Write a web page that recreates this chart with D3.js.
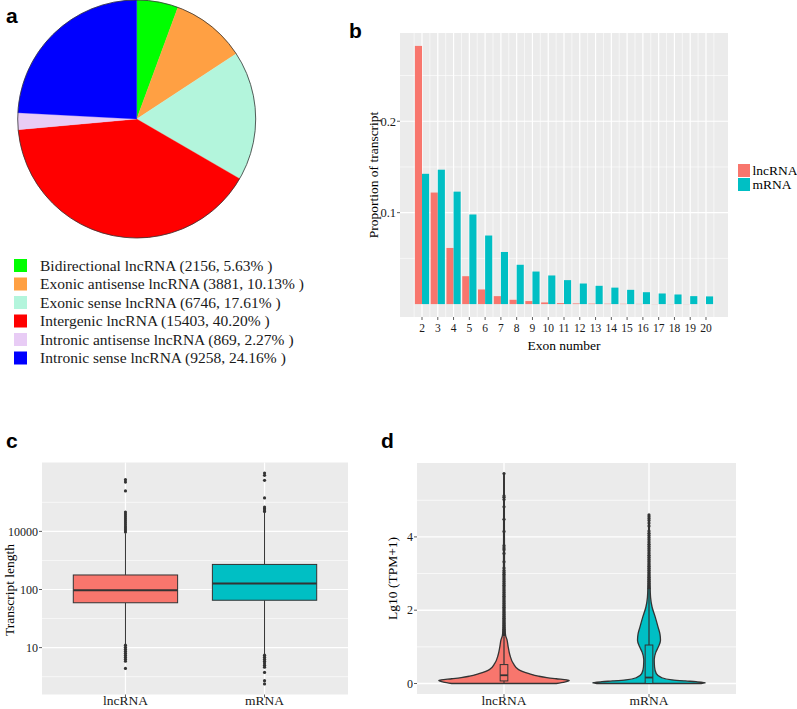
<!DOCTYPE html>
<html><head><meta charset="utf-8">
<script src="https://cdn.jsdelivr.net/npm/d3@7"></script>
<style>
body{margin:0;background:#fff}
svg{display:block}
text{font-family:"Liberation Serif","Times New Roman",serif}
</style>
</head><body>
<svg id="fig" width="797" height="709"></svg>
<script>
// ---------- Panel a data ----------
const pieLabels = ["Bidirectional lncRNA","Exonic antisense lncRNA","Exonic sense lncRNA","Intergenic lncRNA","Intronic antisense lncRNA","Intronic sense lncRNA"];
const pieCounts = [2156, 3881, 6746, 15403, 869, 9258];
const piePercents = ["5.63","10.13","17.61","40.20","2.27","24.16"];
const pieColors = ["#00FF00","#FFA043","#B3F5DC","#FF0000","#E8CCF5","#0000FF"];

// ---------- Panel b data ----------
const exonNumbers = [2,3,4,5,6,7,8,9,10,11,12,13,14,15,16,17,18,19,20];
const lncProportion = [0.2824,0.122,0.0614,0.0305,0.016,0.0087,0.0047,0.0033,0.0018,0.0011,0.0007,0.0005,0.0004,0.0003,0.0002,0.0001,0.0001,0.0001,0.0];
const mrnaProportion = [0.1425,0.147,0.123,0.098,0.075,0.057,0.043,0.0356,0.0313,0.0262,0.0225,0.020,0.018,0.0156,0.013,0.0116,0.0105,0.0087,0.0084];
const seriesNames = ["lncRNA","mRNA"];
const seriesColors = ["#F8766D","#00BFC4"];
const bYTicks = [0.1, 0.2];
const bYMinor = [0.05, 0.15, 0.25];

// ---------- Panel c data (transcript length) ----------
const cGroups = ["lncRNA","mRNA"];
const cWhiskerLow = [11, 8.4];
const cQ1 = [51, 57.5];
const cMedian = [96, 140];
const cQ3 = [239, 498];
const cWhiskerHigh = [8200, 104000];
const cOutliersLnc = [9400,11700,14700,18400,23300,29600,37900,48900,63200,82600,108000,3.0e6,1.6e7,2.6e7,10.7,10.1,9.58,9.08,8.62,8.2,7.8,7.44,7.1,6.03];
const cOutliersMrna = [116000,143000,177000,220000,920000,2.27e7,6.4e7,1.05e8,8.2,7.8,7.44,7.1,6.78,6.48,6.2,5.55,4.72,4.45];
const cYTicks = [10, 100, 10000];
const cYTickLabels = ["10","100","10000"];

// ---------- Panel d data (Lg10 TPM+1) ----------
const dGroups = ["lncRNA","mRNA"];
const lncViolinLevels = [0,0.04,0.08,0.1,0.13,0.16,0.2,0.27,0.38,0.54,0.77,1.0,1.2,1.3,1.5,2,3,4,5.73];
const lncViolinDensity = [50,58,62.5,60,50,41,33,24,14,9,5.7,4,2.8,1.6,1.0,0.7,0.5,0.4,0.3];
const mrnaViolinLevels = [0,0.02,0.05,0.07,0.1,0.16,0.27,0.45,0.65,0.85,1.0,1.18,1.35,1.54,1.81,2.08,2.35,2.7,3.5,4.6];
const mrnaViolinDensity = [50,54,45,35,22,12,7,5.3,5,6.5,9,11,10.5,8.7,6,3,1.5,1.0,0.6,0.3];
const dWhiskerLow = [0, 0];
const dQ1 = [0.07, 0.0];
const dMedian = [0.225, 0.163];
const dQ3 = [0.516, 1.05];
const dWhiskerHigh = [1.29, 2.55];
const dOutliersLnc = [1.33,1.38,1.43,1.48,1.53,1.58,1.63,1.68,1.73,1.78,1.83,1.88,1.93,1.98,2.03,2.08,2.13,2.18,2.23,2.28,2.33,2.38,2.43,2.48,2.53,2.58,2.63,2.68,2.73,2.78,2.83,2.88,2.93,2.98,3.03,3.08,3.15,3.32,3.55,3.65,3.7,3.76,4.15,4.48,4.82,5.02,5.08,5.12,5.73];
const dOutliersMrna = [2.6,2.66,2.72,2.78,2.84,2.9,2.96,3.02,3.08,3.14,3.2,3.26,3.32,3.38,3.44,3.5,3.56,3.62,3.68,3.74,3.8,3.86,3.92,3.98,4.04,4.1,4.16,4.3,4.38,4.45,4.5,4.55,4.6];
const dYTicks = [0, 2, 4];
const dYMinor = [1, 3, 5];

// ---------- drawing ----------
const svg = d3.select("#fig");
const BG = "#EBEBEB", GRID = "#FFFFFF", TXT = "#1a1a1a", TICK = "#333333", LINE = "#333333";

function panelLetter(t, x, y){
  svg.append("text").attr("x",x).attr("y",y).text(t)
    .style("font-family","'Liberation Sans',Arial,sans-serif").style("font-weight","bold")
    .style("font-size","21px").attr("fill","#000");
}
function expand(lo, hi, f){ const r = hi - lo; return [lo - r*f, hi + r*f]; }
function hGrid(g, x0, x1, ys, w){ ys.forEach(y => g.append("line").attr("x1",x0).attr("x2",x1).attr("y1",y).attr("y2",y).attr("stroke",GRID).attr("stroke-width",w)); }
function vGrid(g, y0, y1, xs, w){ xs.forEach(x => g.append("line").attr("x1",x).attr("x2",x).attr("y1",y0).attr("y2",y1).attr("stroke",GRID).attr("stroke-width",w)); }
function yTicks(g, x, ys, labels, fs){
  ys.forEach((y,i) => {
    g.append("line").attr("x1",x-3).attr("x2",x).attr("y1",y).attr("y2",y).attr("stroke",TICK).attr("stroke-width",0.8);
    g.append("text").attr("x",x-4).attr("y",y).attr("dy","0.35em").attr("text-anchor","end")
      .style("font-size",fs+"px").attr("fill",TXT).text(labels[i]);
  });
}
function xTicks(g, y, xs, labels, fs, ly){
  xs.forEach((x,i) => {
    g.append("line").attr("x1",x).attr("x2",x).attr("y1",y).attr("y2",y+3).attr("stroke",TICK).attr("stroke-width",0.8);
    g.append("text").attr("x",x).attr("y",ly).attr("text-anchor","middle")
      .style("font-size",fs+"px").attr("fill",TXT).text(labels[i]);
  });
}

// ===== Panel a: pie =====
panelLetter("a", 6, 23);
const pieG = svg.append("g").attr("transform","translate(136.7,119)");
const pieR = 119;
const arcs = d3.pie().sort(null).value(d => d)(pieCounts);
const arcGen = d3.arc().innerRadius(0).outerRadius(pieR);
pieG.selectAll("path.slice").data(arcs).join("path").attr("class","slice")
  .attr("d", arcGen).attr("fill", (d,i) => pieColors[i]).attr("stroke", (d,i)=>pieColors[i]).attr("stroke-width",0.3);
pieG.append("circle").attr("r",pieR).attr("fill","none").attr("stroke","#333").attr("stroke-width",0.8);

const legA = svg.append("g");
const legRow = d3.scaleLinear().domain([0,1]).range([265.5, 284]);
pieLabels.forEach((lab,i) => {
  const cy = legRow(i);
  legA.append("rect").attr("x",14).attr("y",cy-6.5).attr("width",13).attr("height",13).attr("fill",pieColors[i]);
  legA.append("text").attr("x",40).attr("y",cy).attr("dy","0.35em").style("font-size","15.5px").attr("fill",TXT)
    .text(`${lab} (${pieCounts[i]}, ${piePercents[i]}% )`);
});

// ===== Panel b: grouped bars =====
panelLetter("b", 349, 38);
const bL = 400, bR = 728, bT = 33, bB = 317;
const gB = svg.append("g");
const half = 0.45;
const bx = d3.scaleLinear().domain(expand(d3.min(exonNumbers)-half, d3.max(exonNumbers)+half, 0.05)).range([bL, bR]);
const allProp = lncProportion.concat(mrnaProportion);
const by = d3.scaleLinear().domain(expand(0, d3.max(allProp), 0.05)).range([bB, bT]);
gB.append("rect").attr("x",bL).attr("y",bT).attr("width",bR-bL).attr("height",bB-bT).attr("fill",BG);
hGrid(gB, bL, bR, bYMinor.map(by), 0.6);
hGrid(gB, bL, bR, bYTicks.map(by), 1.2);
const bMinorX = exonNumbers.map(n => n - 0.5).concat([d3.max(exonNumbers)+0.5]);
vGrid(gB, bT, bB, bMinorX.map(bx), 0.6);
vGrid(gB, bT, bB, exonNumbers.map(bx), 1.2);
const bSeries = [lncProportion, mrnaProportion];
bSeries.forEach((vals, s) => {
  gB.selectAll(null).data(vals).join("rect")
    .attr("x", (d,i) => s === 0 ? bx(exonNumbers[i]-half) : bx(exonNumbers[i]))
    .attr("width", bx(half) - bx(0))
    .attr("y", d => by(d)).attr("height", d => by(0) - by(d))
    .attr("fill", seriesColors[s]);
});
yTicks(gB, bL, bYTicks.map(by), bYTicks.map(d3.format(".1f")), 12.5);
xTicks(gB, bB, exonNumbers.map(bx), exonNumbers.map(String), 11.5, 332);
gB.append("text").attr("x",(bL+bR)/2).attr("y",350).attr("text-anchor","middle").style("font-size","13.5px").attr("fill","#000").text("Exon number");
gB.append("text").attr("transform",`translate(373,${(bT+bB)/2}) rotate(-90)`).attr("dy","0.35em").attr("text-anchor","middle")
  .style("font-size","13.5px").attr("fill","#000").text("Proportion of transcript");
// legend
seriesNames.forEach((nm,i) => {
  const cy = 170.5 + i*14;
  gB.append("rect").attr("x",738).attr("y",cy-6.5).attr("width",12).attr("height",13).attr("fill",seriesColors[i]);
  gB.append("text").attr("x",752.5).attr("y",cy).attr("dy","0.35em").style("font-size","13.5px").attr("fill","#000").text(nm);
});

// ===== Panel c: boxplot (double log scale) =====
panelLetter("c", 6, 448);
const cL = 42, cR = 348, cT = 462.5, cB = 694.5;
const gC = svg.append("g");
const uT = v => Math.log10(Math.log10(v));
const cAll = cWhiskerLow.concat(cWhiskerHigh, cOutliersLnc, cOutliersMrna).map(uT);
const cyLin = d3.scaleLinear().domain(expand(d3.min(cAll), d3.max(cAll), 0.05)).range([cB, cT]);
const cy = v => cyLin(uT(v));
const cx = d3.scalePoint().domain(cGroups).range([cL, cR]).padding(0.6);
const cUnit = cx.step();
gC.append("rect").attr("x",cL).attr("y",cT).attr("width",cR-cL).attr("height",cB-cT).attr("fill",BG);
const cMajU = cYTicks.map(uT);
const cMinU = [cMajU[0]-(cMajU[1]-cMajU[0])/2].concat(cMajU.map((u,i)=> i<cMajU.length-1 ? (u+cMajU[i+1])/2 : u+(u-cMajU[i-1])/2));
hGrid(gC, cL, cR, cMinU.map(cyLin), 0.6);
hGrid(gC, cL, cR, cYTicks.map(cy), 1.2);
vGrid(gC, cT, cB, cGroups.map(cx), 1.2);
const cOut = [cOutliersLnc, cOutliersMrna];
cGroups.forEach((g,i) => {
  const x = cx(g), hw = 0.375*cUnit;
  gC.append("line").attr("x1",x).attr("x2",x).attr("y1",cy(cWhiskerLow[i])).attr("y2",cy(cQ1[i])).attr("stroke",LINE).attr("stroke-width",1);
  gC.append("line").attr("x1",x).attr("x2",x).attr("y1",cy(cQ3[i])).attr("y2",cy(cWhiskerHigh[i])).attr("stroke",LINE).attr("stroke-width",1);
  gC.append("rect").attr("x",x-hw).attr("width",2*hw).attr("y",cy(cQ3[i])).attr("height",cy(cQ1[i])-cy(cQ3[i]))
    .attr("fill",seriesColors[i]).attr("stroke",LINE).attr("stroke-width",1);
  gC.append("line").attr("x1",x-hw).attr("x2",x+hw).attr("y1",cy(cMedian[i])).attr("y2",cy(cMedian[i])).attr("stroke",LINE).attr("stroke-width",2);
  gC.selectAll(null).data(cOut[i]).join("circle").attr("cx",x).attr("cy",d=>cy(d)).attr("r",1.6).attr("fill",LINE);
});
yTicks(gC, cL, cYTicks.map(cy), cYTickLabels, 12);
xTicks(gC, cB, cGroups.map(cx), cGroups, 13.5, 705);
gC.append("text").attr("transform",`translate(9,590) rotate(-90)`).attr("dy","0.35em").attr("text-anchor","middle")
  .style("font-size","13.5px").attr("fill","#000").text("Transcript length");

// ===== Panel d: violin + boxplot =====
panelLetter("d", 381, 448);
const dL = 417, dR = 736, dT = 463, dB = 694;
const gD = svg.append("g");
const dAll = [0].concat(dOutliersLnc, dOutliersMrna, lncViolinLevels, mrnaViolinLevels);
const dy = d3.scaleLinear().domain(expand(d3.min(dAll), d3.max(dAll), 0.05)).range([dB, dT]);
const dx = d3.scalePoint().domain(dGroups).range([dL, dR]).padding(0.6);
const dUnit = dx.step();
gD.append("rect").attr("x",dL).attr("y",dT).attr("width",dR-dL).attr("height",dB-dT).attr("fill",BG);
hGrid(gD, dL, dR, dYMinor.map(dy), 0.7);
hGrid(gD, dL, dR, dYTicks.map(dy), 1.4);
vGrid(gD, dT, dB, dGroups.map(dx), 1.4);
const vLevels = [lncViolinLevels, mrnaViolinLevels];
const vDens = [lncViolinDensity, mrnaViolinDensity];
const maxDens = d3.max(lncViolinDensity.concat(mrnaViolinDensity));
const wScale = d3.scaleLinear().domain([0, maxDens]).range([0, 0.45*dUnit]);
const dOut = [dOutliersLnc, dOutliersMrna];
dGroups.forEach((g,i) => {
  const x = dx(g);
  const pts = vLevels[i].map((v,k) => ({v, w: wScale(vDens[i][k])}));
  const area = d3.area().y(d => dy(d.v)).x0(d => x - d.w).x1(d => x + d.w).curve(d3.curveMonotoneY);
  gD.append("path").attr("d", area(pts)).attr("fill", seriesColors[i]).attr("stroke", LINE).attr("stroke-width",1.3).attr("stroke-linejoin","round");
  const hw = 0.025*dUnit + 0.2;
  gD.append("line").attr("x1",x).attr("x2",x).attr("y1",dy(dWhiskerLow[i])).attr("y2",dy(dQ1[i])).attr("stroke",LINE).attr("stroke-width",1);
  gD.append("line").attr("x1",x).attr("x2",x).attr("y1",dy(dQ3[i])).attr("y2",dy(dWhiskerHigh[i])).attr("stroke",LINE).attr("stroke-width",1.2);
  gD.append("rect").attr("x",x-hw).attr("width",2*hw).attr("y",dy(dQ3[i])).attr("height",Math.max(0.5,dy(dQ1[i])-dy(dQ3[i])))
    .attr("fill",seriesColors[i]).attr("stroke",LINE).attr("stroke-width",1);
  gD.append("line").attr("x1",x-hw).attr("x2",x+hw).attr("y1",dy(dMedian[i])).attr("y2",dy(dMedian[i])).attr("stroke",LINE).attr("stroke-width",1.8);
  gD.selectAll(null).data(dOut[i]).join("circle").attr("cx",x).attr("cy",d=>dy(d)).attr("r",1.6).attr("fill",LINE);
});
yTicks(gD, dL, dYTicks.map(dy), dYTicks.map(String), 12);
xTicks(gD, dB, dGroups.map(dx), dGroups, 13.5, 705);
gD.append("text").attr("transform",`translate(392,${(dT+dB)/2}) rotate(-90)`).attr("dy","0.35em").attr("text-anchor","middle")
  .style("font-size","13.5px").attr("fill","#000").text("Lg10 (TPM+1)");
</script>
</body></html>
